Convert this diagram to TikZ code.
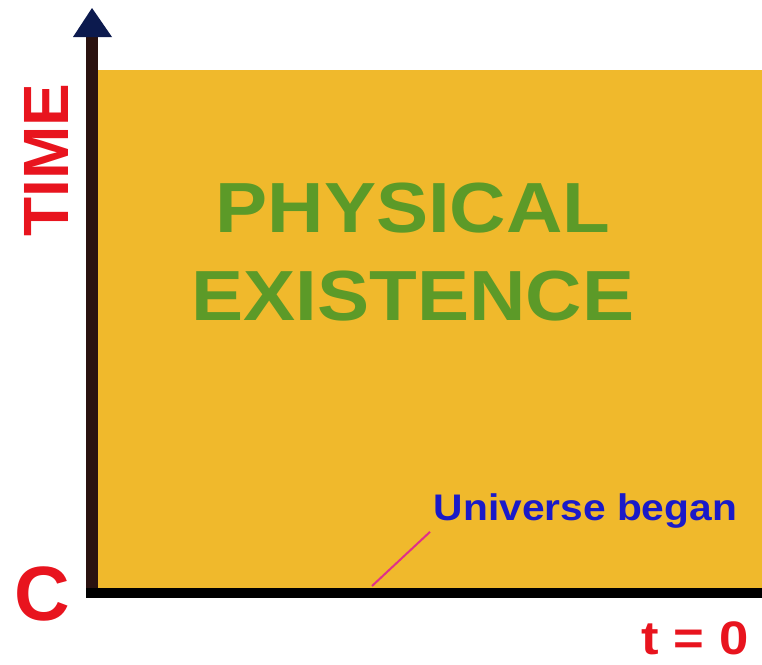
\documentclass[tikz,border=0pt]{standalone}
\usepackage{fontspec}
\setmainfont{Liberation Sans}
\usetikzlibrary{arrows.meta}
\definecolor{sand}{HTML}{F0B92C}
\definecolor{leaf}{HTML}{5C9A28}
\definecolor{alarm}{HTML}{E8141E}
\definecolor{ink}{HTML}{1A1AC8}
\definecolor{navy}{HTML}{0C1A4E}
\definecolor{axisbrown}{HTML}{2A1210}
\definecolor{pinkline}{HTML}{E0308A}

\begin{document}
\begin{tikzpicture}[x=1pt, y=-1pt, font=\bfseries]
\useasboundingbox (0,0) rectangle (762,664);
\fill[sand] (98,70) rectangle (762,588);
\draw[axisbrown, line width=12pt] (92,594) -- (92,36);
\fill[navy] (92,8) -- (112,37) -- (73,37) -- cycle;
\draw[black, line width=10pt] (86,593) -- (762,593);
\coordinate (tstart) at (372,586);
\node[alarm, font=\fontsize{77}{77}\bfseries\selectfont] (origin) at (42,594) {C};
\node[alarm, rotate=90, font=\fontsize{64}{64}\bfseries\selectfont] (time) at (46,160) {TIME};
\node[leaf, align=center, xscale=1.1, font=\fontsize{71}{88}\bfseries\selectfont] (exist) at (413,252) {PHYSICAL\\EXISTENCE};
\node[ink, anchor=west, xscale=1.1, font=\fontsize{37}{37}\bfseries\selectfont] (began) at (430,511) {Universe began};
\node[alarm, inner sep=0pt, xscale=1.12, font=\fontsize{47}{47}\bfseries\selectfont] (tzero) at (695,638) {t = 0};
\draw[pinkline, line width=2pt] (tstart) -- (began.south west);
\end{tikzpicture}
\end{document}
